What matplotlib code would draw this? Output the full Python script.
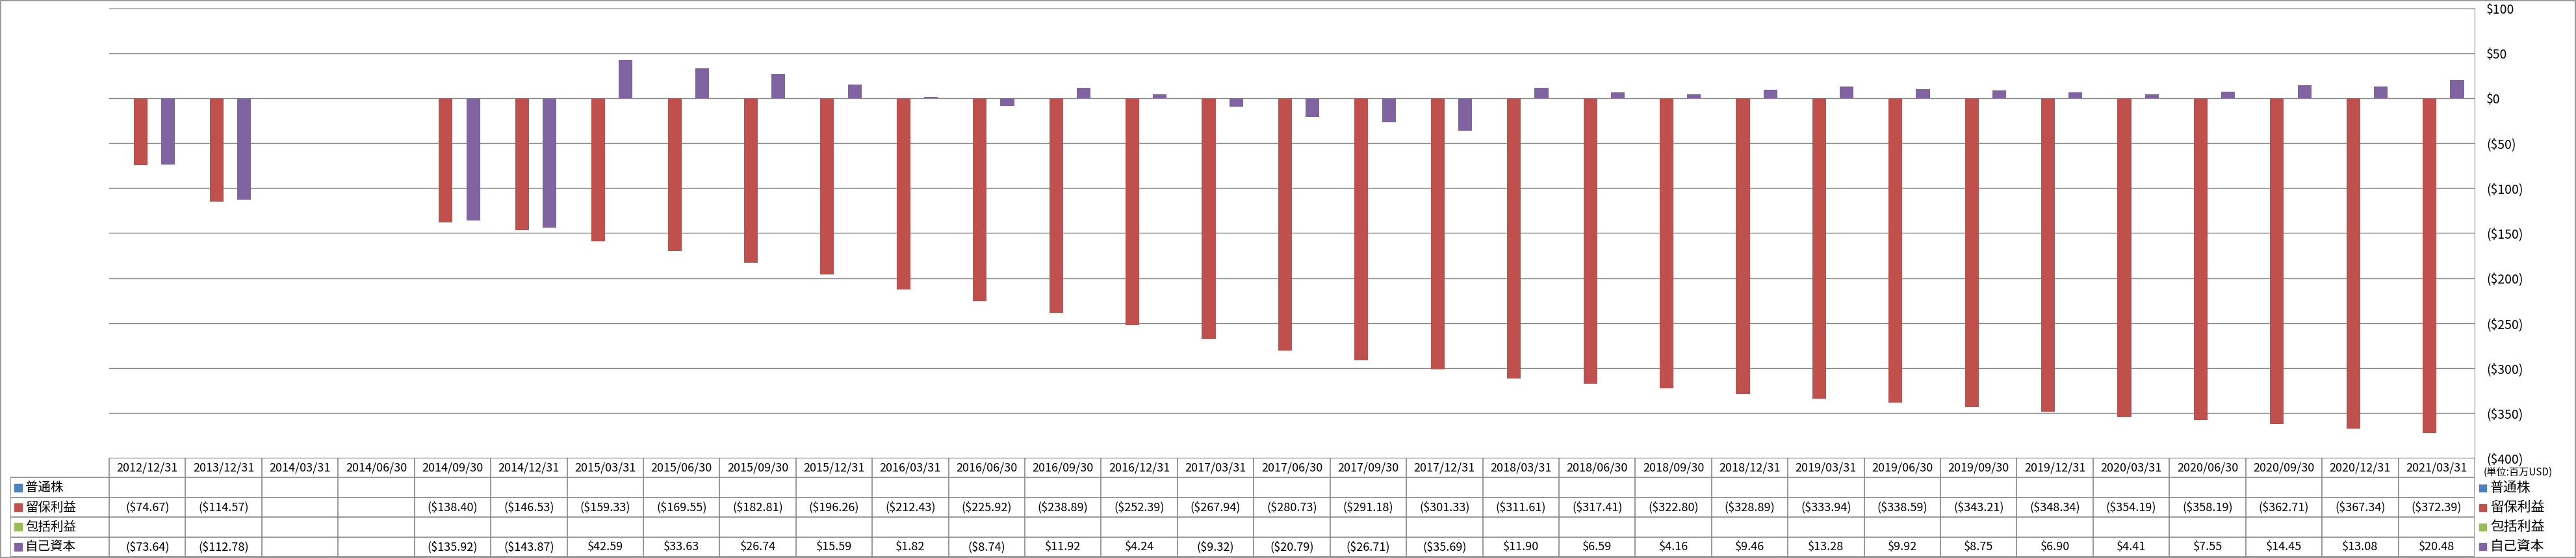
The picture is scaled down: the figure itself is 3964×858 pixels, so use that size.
import numpy as np
import matplotlib
matplotlib.use("Agg")
import matplotlib.pyplot as plt
from matplotlib.patches import Rectangle

plt.rcParams['font.family'] = ['Noto Sans CJK JP', 'DejaVu Sans']

# ---- data ----
dates = ["2012/12/31", "2013/12/31", "2014/03/31", "2014/06/30", "2014/09/30", "2014/12/31",
         "2015/03/31", "2015/06/30", "2015/09/30", "2015/12/31", "2016/03/31", "2016/06/30",
         "2016/09/30", "2016/12/31", "2017/03/31", "2017/06/30", "2017/09/30", "2017/12/31",
         "2018/03/31", "2018/06/30", "2018/09/30", "2018/12/31", "2019/03/31", "2019/06/30",
         "2019/09/30", "2019/12/31", "2020/03/31", "2020/06/30", "2020/09/30", "2020/12/31",
         "2021/03/31"]
nan = np.nan
common_stock = [nan] * len(dates)
retained = [-74.67, -114.57, nan, nan, -138.40, -146.53, -159.33, -169.55, -182.81, -196.26,
            -212.43, -225.92, -238.89, -252.39, -267.94, -280.73, -291.18, -301.33, -311.61,
            -317.41, -322.80, -328.89, -333.94, -338.59, -343.21, -348.34, -354.19, -358.19,
            -362.71, -367.34, -372.39]
comprehensive = [nan] * len(dates)
equity = [-73.64, -112.78, nan, nan, -135.92, -143.87, 42.59, 33.63, 26.74, 15.59,
          1.82, -8.74, 11.92, 4.24, -9.32, -20.79, -26.71, -35.69, 11.90,
          6.59, 4.16, 9.46, 13.28, 9.92, 8.75, 6.90, 4.41, 7.55,
          14.45, 13.08, 20.48]

series_names = ["普通株", "留保利益", "包括利益", "自己資本"]
series_vals = [common_stock, retained, comprehensive, equity]
colors = ["#4F81BD", "#C0504D", "#9BBB59", "#8064A2"]
yticks = [100, 50, 0, -50, -100, -150, -200, -250, -300, -350, -400]


def money(v):
    if np.isnan(v):
        return ""
    if v < 0:
        return "(${:,.2f})".format(-v)
    return "${:,.2f}".format(v)


def money0(v):
    if v < 0:
        return "(${:d})".format(int(-v))
    return "${:d}".format(int(v))


# ---- layout (pixels) ----
W, H = 3964, 858
plot_l, plot_r, plot_t, plot_b = 168, 3808, 13, 704
tab_l, tab_b = 16, 856
n = len(dates)
colw = (plot_r - plot_l) / n
grid_c = "#868686"


def fx(p):
    return p / W


def fy(p):
    return 1 - p / H


fig = plt.figure(figsize=(W / 100, H / 100), dpi=100)

# ---- bar chart ----
ax = fig.add_axes([fx(plot_l), fy(plot_b), fx(plot_r) - fx(plot_l), fy(plot_t) - fy(plot_b)])
x = np.arange(n)
w = 0.18
for k, (vals, c) in enumerate(zip(series_vals, colors)):
    vals = np.array(vals, dtype=float)
    if np.all(np.isnan(vals)):
        continue
    ax.bar(x + (k - 1.5) * w, np.nan_to_num(vals), w, color=c, zorder=3)

ax.set_xlim(-0.5, n - 0.5)
ax.set_ylim(-400, 100)
ax.set_yticks(yticks)
ax.set_yticklabels([money0(v) for v in yticks])
for lab, v in zip(ax.get_yticklabels(), yticks):
    lab.set_color("red" if v < 0 else "black")
ax.yaxis.tick_right()
ax.tick_params(axis="y", length=0, pad=13, labelsize=14)
ax.set_xticks([])
ax.yaxis.grid(True, color=grid_c, lw=1)
ax.set_axisbelow(True)
for s in ["left", "bottom", "top"]:
    ax.spines[s].set_visible(False)
ax.spines["right"].set_color(grid_c)
ax.patch.set_alpha(0)

# ---- data table ----
tax = fig.add_axes([fx(tab_l), fy(tab_b), fx(plot_r) - fx(tab_l), fy(plot_b) - fy(tab_b)])
xleft = -0.5 - (plot_l - tab_l) / colw
tax.set_xlim(xleft, n - 0.5)
tax.set_ylim(5, 0)
tax.axis("off")

tax.hlines(0, -0.5, n - 0.5, color=grid_c, lw=1.2)
tax.hlines([1, 2, 3, 4, 5], xleft, n - 0.5, color=grid_c, lw=1.2)
tax.vlines(np.arange(n + 1) - 0.5, 0, 5, color=grid_c, lw=1.2)
tax.vlines(xleft, 1, 5, color=grid_c, lw=1.2)

for i, d in enumerate(dates):
    tax.text(i, 0.5, d, ha="center", va="center", fontsize=13)
for r, (name, vals, c) in enumerate(zip(series_names, series_vals, colors)):
    row = r + 1.5
    tax.plot(xleft + 11.5 / colw, row, marker="s", ms=8, color=c, ls="none")
    tax.text(xleft + 23 / colw, row, name, ha="left", va="center", fontsize=14)
    for i, v in enumerate(vals):
        tax.text(i, row, money(v), ha="center", va="center", fontsize=13)

# ---- right side: unit label and legend ----
fig.text(fx(3822), fy(726), "(単位:百万USD)", ha="left", va="center", fontsize=11)
for r, (name, c) in enumerate(zip(series_names, colors)):
    yc = 750 + r * 30
    fig.add_artist(Rectangle((fx(3815), fy(yc + 5.5)), fx(11), 11 / H, color=c,
                             transform=fig.transFigure))
    fig.text(fx(3832), fy(yc), name, ha="left", va="center", fontsize=15)

# outer border
fig.add_artist(Rectangle((fx(1), fy(857)), fx(3962), 856 / H, fill=False,
                         edgecolor=grid_c, lw=1.2, transform=fig.transFigure))

fig.savefig("out.png", dpi=100)
